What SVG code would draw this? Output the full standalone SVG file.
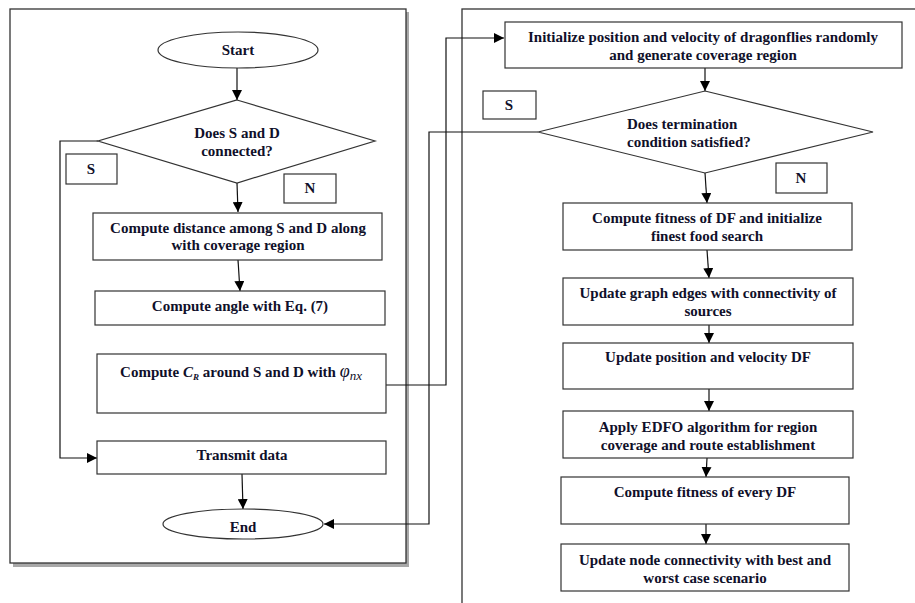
<svg xmlns="http://www.w3.org/2000/svg" width="915" height="603" viewBox="0 0 915 603">
<defs>
<marker id="ah" viewBox="0 0 10 10" refX="10" refY="5" markerWidth="10" markerHeight="10" markerUnits="userSpaceOnUse" orient="auto">
<path d="M0,0 L10,5 L0,10 z" fill="#000"/>
</marker>
<style>
.box{fill:#fff;stroke:#333;stroke-width:1.2}
.lbl{fill:#fff;stroke:#333;stroke-width:1.2}
.t{font-family:"Liberation Serif","Times New Roman",serif;font-weight:bold;font-size:15px;fill:#10102a;text-anchor:middle}
.ts{text-anchor:start}
.c{fill:none;stroke:#111;stroke-width:1.2}
.ca{fill:none;stroke:#111;stroke-width:1.2;marker-end:url(#ah)}
</style>
</defs>
<rect width="915" height="603" fill="#fff"/>
<!-- panels -->
<g id="panel-left">
<rect x="13" y="12" width="396" height="555" fill="#a8a8a8"/>
<rect x="10" y="9" width="396" height="554" fill="#fff" stroke="#333" stroke-width="1.3"/>
</g>
<g id="panel-right">
<rect x="465" y="12" width="455" height="600" fill="#a8a8a8"/>
<rect x="462" y="9" width="460" height="600" fill="#fff" stroke="#333" stroke-width="1.3"/>
</g>
<!-- connectors -->
<g id="connectors">
<path class="ca" d="M237,68 L237,100"/>
<path class="ca" d="M237,183 L238,212"/>
<path class="ca" d="M238,260 L240,291"/>
<path class="ca" d="M98,141 L60,141 L60,458 L97,458"/>
<path class="ca" d="M242,474 L243,509"/>
<path class="ca" d="M386,385 L446,385 L446,38 L504,38"/>
<path class="ca" d="M538,132 L429,132 L429,524 L324,524"/>
<path class="ca" d="M705,68 L705,91"/>
<path class="ca" d="M705,173 L707,203"/>
<path class="ca" d="M707,250 L709,278"/>
<path class="ca" d="M709,325 L709,343"/>
<path class="ca" d="M709,389 L709,411"/>
<path class="ca" d="M707,458 L706,477"/>
<path class="ca" d="M706,524 L706,544"/>
</g>
<!-- left nodes -->
<g id="start">
<ellipse class="box" cx="238" cy="50" rx="80" ry="18"/>
<text class="t" x="238" y="55">Start</text>
</g>
<g id="dec1">
<polygon class="box" points="237,100 375,141 237,183 98,141"/>
<text class="t" x="237" y="138">Does S and D</text>
<text class="t" x="237" y="156">connected?</text>
</g>
<g id="lblS1">
<rect class="lbl" x="66" y="154" width="51" height="30"/>
<text class="t" x="91" y="174">S</text>
</g>
<g id="lblN1">
<rect class="lbl" x="284" y="174" width="52" height="29"/>
<text class="t" x="310" y="193">N</text>
</g>
<g id="dist">
<rect class="box" x="93" y="213" width="289" height="47"/>
<text class="t" x="238" y="233">Compute distance among S and D along</text>
<text class="t" x="238" y="250">with coverage region</text>
</g>
<g id="angle">
<rect class="box" x="95" y="291" width="290" height="34"/>
<text class="t" x="240" y="311">Compute angle with Eq. (7)</text>
</g>
<g id="cr">
<rect class="box" x="97" y="354" width="289" height="59"/>
<text class="t" x="241" y="377">Compute <tspan font-style="italic">C</tspan><tspan font-style="italic" font-size="9" dy="3">R</tspan><tspan dy="-3"> around S and D with </tspan><tspan font-style="italic" font-weight="normal" font-size="18">φ</tspan><tspan font-style="italic" font-weight="normal" font-size="13" dy="3">nx</tspan></text>
</g>
<g id="transmit">
<rect class="box" x="97" y="441" width="289" height="33"/>
<text class="t" x="242" y="460">Transmit data</text>
</g>
<g id="end">
<ellipse class="box" cx="243" cy="524" rx="80" ry="15"/>
<text class="t" x="243" y="532">End</text>
</g>
<!-- right nodes -->
<g id="init">
<rect class="box" x="505" y="22" width="397" height="46"/>
<text class="t" x="703" y="42">Initialize position and velocity of dragonflies randomly</text>
<text class="t" x="703" y="60">and generate coverage region</text>
</g>
<g id="dec2">
<polygon class="box" points="705,91 873,132 705,173 538,132"/>
<text class="t ts" x="627" y="129">Does termination</text>
<text class="t ts" x="627" y="147">condition satisfied?</text>
</g>
<g id="lblS2">
<rect class="lbl" x="483" y="91" width="53" height="28"/>
<text class="t" x="509" y="110">S</text>
</g>
<g id="lblN2">
<rect class="lbl" x="776" y="163" width="51" height="30"/>
<text class="t" x="801" y="183">N</text>
</g>
<g id="fitness">
<rect class="box" x="563" y="203" width="289" height="47"/>
<text class="t" x="707" y="223">Compute fitness of DF and initialize</text>
<text class="t" x="707" y="241">finest food search</text>
</g>
<g id="graph">
<rect class="box" x="563" y="278" width="290" height="47"/>
<text class="t" x="708" y="298">Update graph edges with connectivity of</text>
<text class="t" x="708" y="316">sources</text>
</g>
<g id="posvel">
<rect class="box" x="563" y="343" width="290" height="46"/>
<text class="t" x="708" y="362">Update position and velocity DF</text>
</g>
<g id="edfo">
<rect class="box" x="563" y="411" width="290" height="47"/>
<text class="t" x="708" y="432">Apply EDFO algorithm for region</text>
<text class="t" x="708" y="450">coverage and route establishment</text>
</g>
<g id="every">
<rect class="box" x="561" y="477" width="288" height="47"/>
<text class="t" x="705" y="497">Compute fitness of every DF</text>
</g>
<g id="nodeconn">
<rect class="box" x="561" y="544" width="288" height="47"/>
<text class="t" x="705" y="565">Update node connectivity with best and</text>
<text class="t" x="705" y="583">worst case scenario</text>
</g>
</svg>
